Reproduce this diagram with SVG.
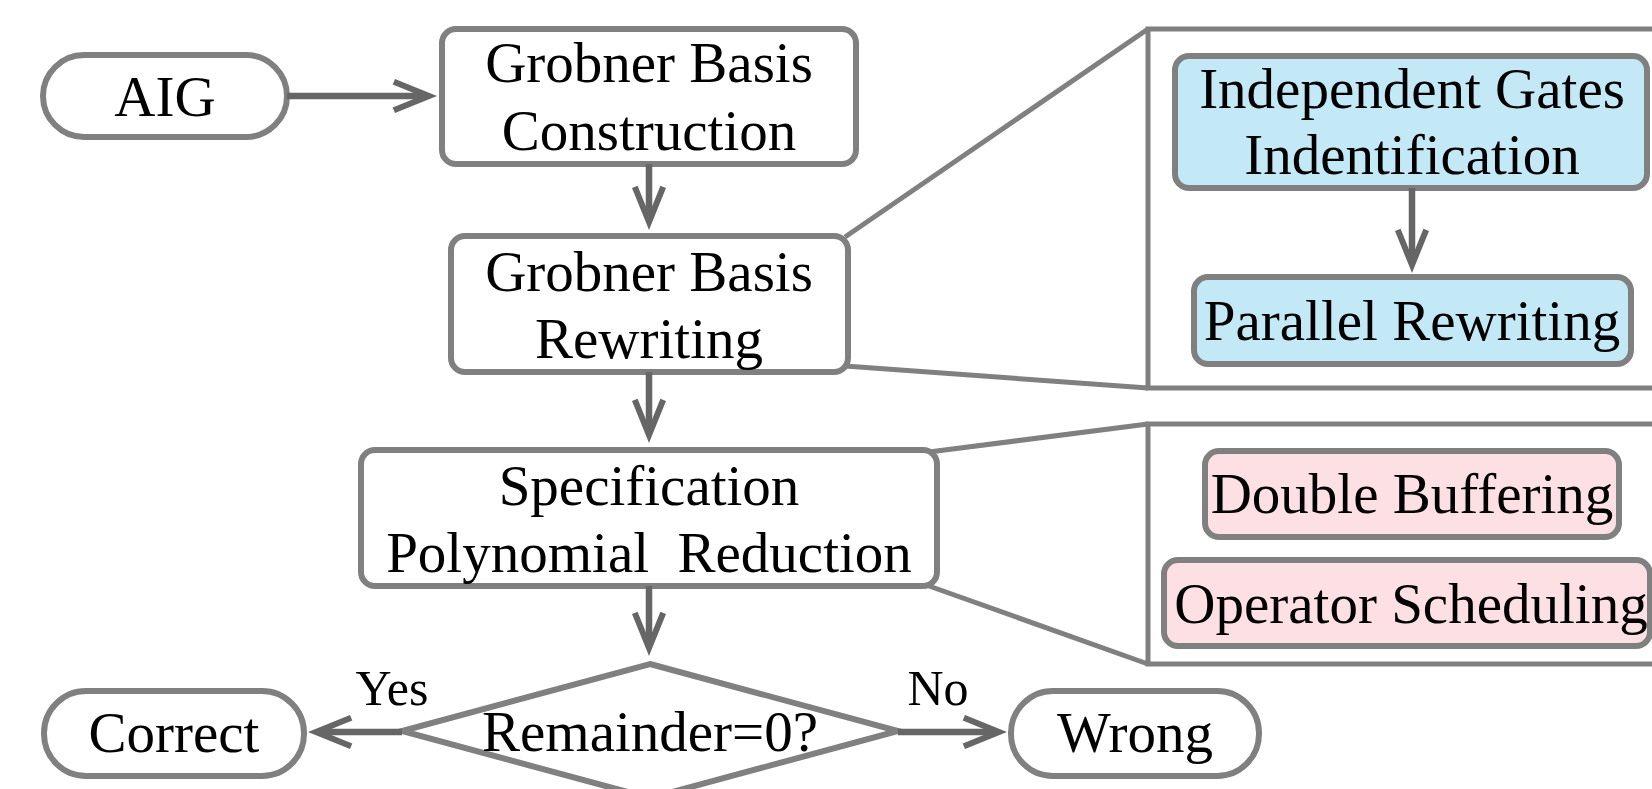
<svg xmlns="http://www.w3.org/2000/svg" width="1652" height="789" viewBox="0 0 1652 789">
<style>
.box{fill:#fff;stroke:#808080;stroke-width:6}
.blue{fill:#c3e8f6;stroke:#808080;stroke-width:6}
.pink{fill:#fde0e3;stroke:#808080;stroke-width:6}
.panel{fill:none;stroke:#808080;stroke-width:5}
.edge{fill:none;stroke:#666;stroke-width:6.5;marker-end:url(#ah)}
.t{font-family:"Liberation Serif","Times New Roman",serif;font-size:57px;fill:#000;text-anchor:middle}
.lbl{font-family:"Liberation Serif","Times New Roman",serif;font-size:50px;fill:#000;text-anchor:middle}
</style>
<defs>
<marker id="ah" markerUnits="userSpaceOnUse" orient="auto" viewBox="-47 -19 49 38" markerWidth="49" markerHeight="38" refX="-12" refY="0">
<path d="M0,0 L-42,-17 L-44.3,-11.4 L-16,0 L-44.3,11.4 L-42,17 Z" fill="#666"/>
</marker>
</defs>
<rect width="1652" height="789" fill="#fff"/>
<g id="zoom-lines">
<path class="panel" d="M845,237 L1148,29 M845,366 L1148,388 M929,452 L1148,424 M929,586 L1148,664"/>
</g>
<g id="panel-top"><path class="panel" d="M1700,29 H1148 V388 H1700"/></g>
<g id="panel-bottom"><path class="panel" d="M1700,424 H1148 V664 H1700"/></g>
<g id="aig">
<rect class="box" x="43" y="55" width="244" height="82" rx="41"/>
<text class="t" x="165" y="116">AIG</text>
</g>
<g id="construction">
<rect class="box" x="442" y="29" width="414" height="135" rx="14"/>
<text class="t" x="649" y="82">Grobner Basis</text>
<text class="t" x="649" y="150">Construction</text>
</g>
<g id="rewriting">
<rect class="box" x="451" y="236" width="397" height="136" rx="14"/>
<text class="t" x="649" y="291">Grobner Basis</text>
<text class="t" x="649" y="358">Rewriting</text>
</g>
<g id="specification">
<rect class="box" x="361" y="450" width="576" height="136" rx="14"/>
<text class="t" x="649" y="505">Specification</text>
<text class="t" x="649" y="572" xml:space="preserve" style="white-space:pre">Polynomial  Reduction</text>
</g>
<g id="decision">
<polygon class="box" points="650,664 898,731 650,798 402,731"/>
<text class="t" x="650" y="751">Remainder=0?</text>
</g>
<g id="correct">
<rect class="box" x="44" y="691" width="260" height="85" rx="42"/>
<text class="t" x="174" y="752">Correct</text>
</g>
<g id="wrong">
<rect class="box" x="1011" y="691" width="248" height="85" rx="42"/>
<text class="t" x="1135" y="752">Wrong</text>
</g>
<g id="independent">
<rect class="blue" x="1175" y="56" width="472" height="132" rx="14"/>
<text class="t" x="1412" y="108">Independent Gates</text>
<text class="t" x="1412" y="174">Indentification</text>
</g>
<g id="parallel">
<rect class="blue" x="1194" y="277" width="437" height="87" rx="14"/>
<text class="t" x="1412" y="340">Parallel Rewriting</text>
</g>
<g id="double-buffering">
<rect class="pink" x="1205" y="451" width="414" height="86" rx="14"/>
<text class="t" x="1412" y="513">Double Buffering</text>
</g>
<g id="operator-scheduling">
<rect class="pink" x="1164" y="560" width="486" height="86" rx="14"/>
<text class="t" x="1411" y="623">Operator Scheduling</text>
</g>
<g id="connectors">
<path class="edge" d="M287,96 H425"/>
<path class="edge" d="M649,164 V218"/>
<path class="edge" d="M649,372 V431"/>
<path class="edge" d="M649,586 V644"/>
<path class="edge" d="M1412,188 V261"/>
<path class="edge" d="M402,732 H320"/>
<path class="edge" d="M898,732 H995"/>
<text class="lbl" x="392" y="705">Yes</text>
<text class="lbl" x="938" y="705">No</text>
</g>
</svg>
